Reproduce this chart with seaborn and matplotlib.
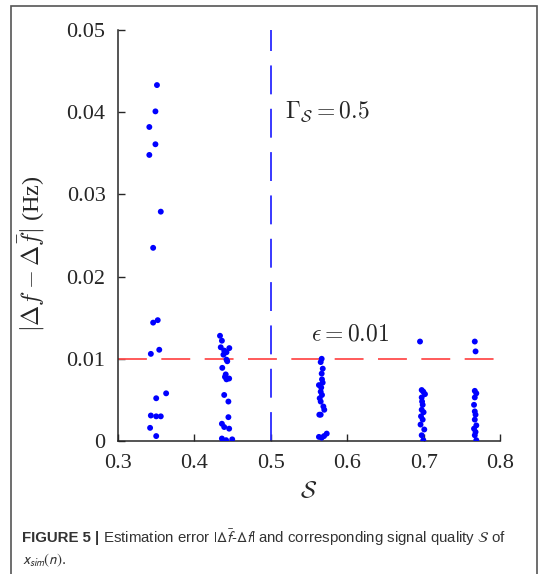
import matplotlib
matplotlib.use("Agg")
import matplotlib.pyplot as plt
import matplotlib.patches as mpatches
import seaborn as sns
import pandas as pd

# ---- data ----
s_c1 = [0.351, 0.349, 0.341, 0.349, 0.341, 0.356, 0.346, 0.352, 0.346, 0.354, 0.343,
        0.363, 0.350, 0.343, 0.350, 0.356, 0.342, 0.350]
e_c1 = [0.0433, 0.0401, 0.0382, 0.0361, 0.0348, 0.0279, 0.0235, 0.0147, 0.0144, 0.0111, 0.0106,
        0.0058, 0.0052, 0.0031, 0.0030, 0.0030, 0.0016, 0.0006]

s_c2 = [0.4335, 0.436, 0.4345, 0.4457, 0.439, 0.442, 0.438, 0.442, 0.443, 0.4365, 0.441, 0.440,
        0.4455, 0.442, 0.439, 0.4445, 0.4445, 0.436, 0.439, 0.4455, 0.436, 0.4415, 0.4495]
e_c2 = [0.0128, 0.0122, 0.0114, 0.0113, 0.0110, 0.0108, 0.0105, 0.0099, 0.0097, 0.0089, 0.0081, 0.0078,
        0.0076, 0.0075, 0.0056, 0.0048, 0.0029, 0.0021, 0.0017, 0.0015, 0.0003, 0.0001, 0.0002]

s_c3 = [0.5666, 0.5653, 0.5680, 0.5666, 0.5670, 0.5679, 0.5630, 0.5660, 0.5653, 0.5670, 0.5640,
        0.5653, 0.5688, 0.5700, 0.5653, 0.5635, 0.5697, 0.5732, 0.5666, 0.5630]
e_c3 = [0.0100, 0.0096, 0.0088, 0.0082, 0.0075, 0.0071, 0.0068, 0.0065, 0.0060, 0.0056, 0.0052,
        0.0048, 0.0042, 0.0038, 0.0032, 0.0032, 0.0006, 0.0009, 0.0004, 0.0005]

s_c4 = [0.6953, 0.6975, 0.6996, 0.7018, 0.6975, 0.6980, 0.6988, 0.7000, 0.6975, 0.6966, 0.6988,
        0.6960, 0.7009, 0.6975, 0.6996]
e_c4 = [0.0121, 0.0062, 0.0060, 0.0057, 0.0053, 0.0048, 0.0044, 0.0035, 0.0038, 0.0030, 0.0026,
        0.0020, 0.0014, 0.0007, 0.0001]

s_c5 = [0.767, 0.768, 0.767, 0.769, 0.767, 0.766, 0.767, 0.768, 0.767, 0.769, 0.766, 0.768, 0.767, 0.769]
e_c5 = [0.0121, 0.0109, 0.0061, 0.0058, 0.0053, 0.0044, 0.0036, 0.0032, 0.0026, 0.0019, 0.0015, 0.0011,
        0.0007, 0.0001]

gamma_threshold = 0.5
epsilon = 0.01

x_ticks = [0.3, 0.4, 0.5, 0.6, 0.7, 0.8]
x_ticklabels = ["0.3", "0.4", "0.5", "0.6", "0.7", "0.8"]
y_ticks = [0.0, 0.01, 0.02, 0.03, 0.04, 0.05]
y_ticklabels = ["0", "0.01", "0.02", "0.03", "0.04", "0.05"]

df = pd.DataFrame({
    "S": s_c1 + s_c2 + s_c3 + s_c4 + s_c5,
    "err": e_c1 + e_c2 + e_c3 + e_c4 + e_c5,
})

# ---- figure ----
sns.set_theme(style="white")
plt.rcParams["font.family"] = ["Liberation Serif", "DejaVu Serif"]
plt.rcParams["mathtext.fontset"] = "cm"

fig = plt.figure(figsize=(5.39, 5.74), dpi=100)
ax = fig.add_axes([118 / 539, 1 - 441 / 574, 382 / 539, 411 / 574])

sns.scatterplot(data=df, x="S", y="err", ax=ax, color="#0000ff", s=18,
                edgecolor="none", linewidth=0, zorder=3)

ax.axvline(gamma_threshold, color="#2a2aff", lw=1.3, dashes=(16, 8), zorder=2)
ax.axhline(epsilon, color="#ff4d4d", lw=1.3, dashes=(16, 8), zorder=2)

ax.set_xlim(0.3, 0.8)
ax.set_ylim(0, 0.05)
ax.set_xticks(x_ticks)
ax.set_xticklabels(x_ticklabels)
ax.set_yticks(y_ticks)
ax.set_yticklabels(y_ticklabels)
ax.tick_params(axis="both", which="major", direction="in", length=5, width=1,
               colors="#262626", labelsize=16, labelcolor="#262626",
               bottom=True, left=True, top=False, right=False)
ax.tick_params(axis="y", pad=9)
ax.tick_params(axis="x", pad=9)

for side in ["top", "right"]:
    ax.spines[side].set_visible(False)
for side in ["left", "bottom"]:
    ax.spines[side].set_color("#262626")
    ax.spines[side].set_linewidth(1.1)

ax.set_xlabel(r"$\mathcal{S}$", fontsize=17, color="#262626", labelpad=6)
ax.set_ylabel(r"$|\Delta f - \Delta \bar{f}|$ (Hz)", fontsize=17.5, color="#262626")
ax.yaxis.set_label_coords(-0.185, 0.455)

ax.text(0.519, 0.0400, r"$\Gamma_{\mathcal{S}} = 0.5$", fontsize=17, color="#262626",
        va="center", ha="left")
ax.text(0.553, 0.0129, r"$\epsilon = 0.01$", fontsize=17, color="#262626",
        va="center", ha="left")

# outer frame
frame = mpatches.Rectangle((11 / 539, -0.02), 526 / 539, 1 - 6 / 574 + 0.02,
                           transform=fig.transFigure, fill=False,
                           edgecolor="#555555", lw=1.2, zorder=0)
fig.add_artist(frame)

# caption
cap_fs = 10.8
cap_y1 = 1 - 538 / 574
t1 = fig.text(22 / 539, cap_y1, "FIGURE 5 |", fontsize=cap_fs, fontweight="bold",
              family=["Liberation Sans", "DejaVu Sans"], color="#333333", va="center")
fig.canvas.draw()
bb = t1.get_window_extent(renderer=fig.canvas.get_renderer())
x_next = (bb.x1 + 4) / fig.bbox.width
fig.text(x_next, cap_y1,
         r"Estimation error $|\Delta\bar{f}$-$\Delta f|$ and corresponding signal quality $\mathcal{S}$ of",
         fontsize=cap_fs, family=["Liberation Sans", "DejaVu Sans"], color="#333333",
         va="center", math_fontfamily="stixsans")
fig.text(22 / 539, 1 - 560 / 574, r"$x_{sim}(n)$.", fontsize=cap_fs,
         family=["Liberation Sans", "DejaVu Sans"], color="#333333", va="center",
         math_fontfamily="stixsans")

fig.savefig("out.png", dpi=100)
